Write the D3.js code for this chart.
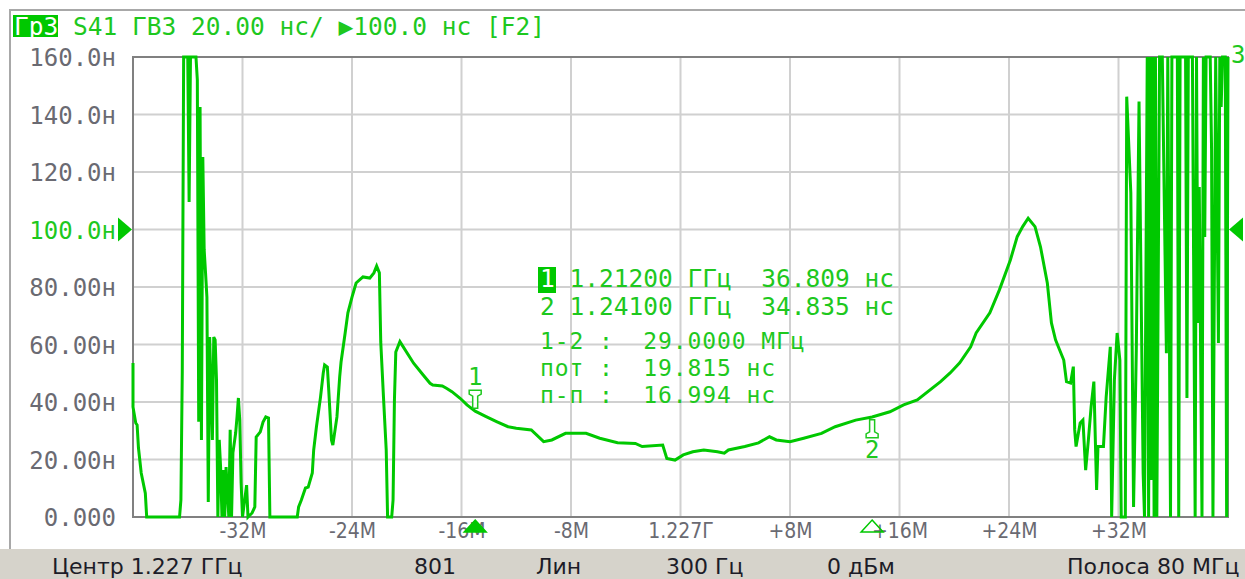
<!DOCTYPE html>
<html>
<head>
<meta charset="utf-8">
<script src="https://cdn.jsdelivr.net/npm/d3@7"></script>
<style>
  html, body { margin: 0; padding: 0; background: #fff; }
  svg { display: block; }
  text { white-space: pre; }
</style>
</head>
<body>
<div id="chart"></div>
<script>
// trace: [offset from 1.227 GHz, MHz ; group delay, ns] (clipped at 0 / 160 like the screen)
const trace = [
  [-40.0, 53.6], [-40.0, 38.3], [-39.8, 32.7], [-39.7, 32.0], [-39.6, 24.0], [-39.4, 15.3], [-39.1, 8.3], [-39.0, 0],
  [-36.6, 0], [-36.5, 5.9], [-36.4, 50.4], [-36.3, 160], [-36.0, 160], [-35.9, 109.6], [-35.8, 160], [-35.4, 160],
  [-35.3, 152], [-35.2, 33.1], [-35.1, 142.6], [-35.0, 26.8], [-34.9, 125.2], [-34.8, 92.9], [-34.7, 84.9], [-34.6, 76.5],
  [-34.5, 5.2], [-34.4, 62.6], [-34.2, 26.8], [-34.1, 62.6], [-34.0, 61.6], [-33.9, 47.7], [-33.8, 0], [-33.7, 26.8],
  [-33.6, 17.4], [-33.5, 0], [-33.4, 16.3], [-33.3, 0], [-33.2, 17.4], [-33.0, 0], [-32.9, 30.3], [-32.8, 0],
  [-32.7, 22.3], [-32.5, 29.2], [-32.4, 34.8], [-32.3, 41.4], [-32.2, 33.7], [-32.1, 11.8], [-32.0, 0], [-31.7, 11.1],
  [-31.6, 0], [-31.3, 1.4], [-31.1, 3.5], [-31.0, 27.8], [-30.7, 29.6], [-30.5, 33.0], [-30.3, 34.8], [-30.1, 34.4],
  [-30.0, 0], [-28.0, 0], [-27.9, 3.5], [-27.7, 5.9], [-27.4, 10.1], [-27.2, 10.4], [-26.9, 15.3], [-26.8, 23.3],
  [-26.6, 31.3], [-26.3, 41.7], [-26.1, 50.1], [-26.0, 52.9], [-25.8, 52.2], [-25.7, 44.2], [-25.5, 26.8], [-25.4, 25.0],
  [-25.1, 34.8], [-24.9, 48.7], [-24.8, 53.9], [-24.5, 64.0], [-24.3, 71.0], [-24.0, 76.5], [-23.7, 81.4], [-23.2, 83.5],
  [-22.7, 83.1], [-22.4, 84.9], [-22.2, 87.3], [-22.0, 84.9], [-21.9, 60.9], [-21.7, 41.7], [-21.5, 23.3], [-21.4, 0],
  [-21.1, 0], [-21.0, 5.9], [-20.9, 40.7], [-20.8, 57.4], [-20.5, 61.0], [-19.5, 53.5], [-18.8, 49.4], [-18.3, 46.5],
  [-18.1, 45.9], [-17.4, 45.6], [-17.1, 44.8], [-16.7, 43.6], [-16.1, 41.3], [-15.6, 39.0], [-15.0, 36.8], [-14.2, 34.9],
  [-13.4, 33.1], [-12.6, 31.4], [-12.0, 30.9], [-10.9, 30.3], [-10.0, 26.2], [-9.4, 26.8],
  [-8.4, 29.1], [-6.9, 29.1], [-5.9, 27.4], [-4.6, 25.8], [-3.3, 25.6], [-2.8, 24.5], [-1.3, 25.0], [-1.0, 20.4],
  [-0.4, 19.8], [0.2, 21.6], [0.9, 22.7], [1.7, 23.3], [2.7, 22.7], [3.2, 22.2], [3.5, 23.3], [4.7, 24.5],
  [5.7, 25.8], [6.5, 27.9], [7.0, 26.8], [8.0, 26.2], [9.0, 27.4], [10.3, 29.1], [11.3, 31.4], [12.8, 33.7],
  [14.0, 34.8], [15.3, 36.6], [16.3, 39.0], [17.3, 40.7], [19.0, 47.1], [19.7, 50.1], [20.4, 53.6], [21.2, 59.2],
  [21.6, 64.0], [22.6, 71.0], [23.3, 79.0], [24.1, 89.4], [24.6, 97.5], [25.0, 101.0], [25.4, 103.9], [25.9, 101.0],
  [26.3, 94.0], [26.8, 81.4], [27.1, 67.5], [27.4, 61.6], [27.7, 58.1], [28.0, 54.6], [28.2, 47.1], [28.5, 46.6],
  [28.7, 52.3], [28.8, 30.3], [28.9, 24.5], [29.2, 32.7], [29.4, 33.7], [29.6, 16.3], [29.8, 26.8], [30.0, 38.4],
  [30.2, 47.1], [30.4, 9.4], [30.5, 24.5], [30.9, 24.5], [31.1, 41.8], [31.4, 59.2], [31.5, 0], [31.7, 47.7],
  [31.9, 64.0], [32.1, 54.6], [32.2, 0], [32.5, 0], [32.6, 146.2], [32.9, 112.7], [33.1, 3.5], [33.3, 58.1],
  [33.5, 144.5], [33.8, 15.3], [33.9, 0], [34.1, 160], [34.2, 0], [34.3, 160], [34.4, 12.9], [34.5, 160],
  [34.6, 0], [34.7, 160], [34.8, 0], [35.0, 160], [35.2, 160], [35.5, 57.0], [35.6, 160], [35.8, 0],
  [35.9, 160], [36.3, 160], [36.4, 0], [36.5, 160], [36.9, 160], [37.0, 41.4], [37.1, 160], [37.4, 160],
  [37.6, 0], [37.7, 160], [37.8, 67.5], [37.9, 114.8], [38.1, 0], [38.2, 160], [38.3, 97.4], [38.4, 160],
  [38.7, 160], [38.8, 127.7], [38.9, 0], [39.1, 160], [39.3, 60.5], [39.4, 160], [39.5, 142.6], [39.6, 160],
  [39.8, 160], [39.9, 0], [40.0, 160]
]

const xTicks = [-32, -24, -16, -8, 0, 8, 16, 24, 32]
const xTickLabels = ['-32M', '-24M', '-16M', '-8M', '1.227Г', '+8M', '+16M', '+24M', '+32M']
const yTicks = [0, 20, 40, 60, 80, 100, 120, 140, 160]
const yTickLabels = ['0.000', '20.00н', '40.00н', '60.00н', '80.00н', '100.0н', '120.0н', '140.0н', '160.0н']
const refLevel = 100

const markerIds = [1, 2]
const markerOffsets = [-15, 14]
const markerValues = [36.809, 34.835]
const markerLines = ['1 1.21200 ГГц  36.809 нс', '2 1.24100 ГГц  34.835 нс']
const deltaLines = ['1-2 :  29.0000 МГц', 'пот :  19.815 нс', 'п-п :  16.994 нс']

const titleTag = 'Гр3'
const titleText = ' S41 ГВЗ 20.00 нс/ \u25B6100.0 нс [F2]'
const statusItems = ['Центр 1.227 ГГц', '801', 'Лин', '300 Гц', '0 дБм', 'Полоса 80 МГц']

const W = 1245, H = 579
const plot = {left: 133, top: 57, right: 1228, bottom: 517}
const green = '#00c800'
const textGreen = '#1ec81e'
const mono = '"DejaVu Sans Mono", monospace'

const svg = d3.select('#chart').append('svg')
    .attr('width', W)
    .attr('height', H)

const x = d3.scaleLinear().domain([-40, 40]).range([plot.left, plot.right])
const y = d3.scaleLinear().domain([0, 160]).range([plot.bottom, plot.top])

// outer frame
svg.append('path')
    .attr('d', `M10,${H - 30} L10,10 L${W},10`)
    .attr('fill', 'none')
    .attr('stroke', '#a8a8a8')
    .attr('stroke-width', 2)

// grid
svg.append('g').selectAll('line')
    .data(xTicks)
    .enter().append('line')
    .attr('x1', d => x(d)).attr('x2', d => x(d))
    .attr('y1', plot.top).attr('y2', plot.bottom)
    .attr('stroke', '#d0d0d0')
    .attr('stroke-width', 2)

svg.append('g').selectAll('line')
    .data(yTicks.slice(1, -1))
    .enter().append('line')
    .attr('x1', plot.left).attr('x2', plot.right)
    .attr('y1', d => y(d)).attr('y2', d => y(d))
    .attr('stroke', '#d0d0d0')
    .attr('stroke-width', 2)

svg.append('rect')
    .attr('x', plot.left).attr('y', plot.top)
    .attr('width', plot.right - plot.left)
    .attr('height', plot.bottom - plot.top)
    .attr('fill', 'none')
    .attr('stroke', '#808080')
    .attr('stroke-width', 2)

// axes
const xAxis = svg.append('g')
    .attr('transform', `translate(0, ${plot.bottom})`)
    .call(d3.axisBottom(x).tickValues(xTicks).tickSize(0).tickPadding(0)
        .tickFormat((d, i) => xTickLabels[i]))
xAxis.select('.domain').remove()
xAxis.selectAll('text')
    .attr('y', 21)
    .attr('dy', 0)
    .attr('fill', '#6a6a72')
    .style('font-family', '"DejaVu Sans Condensed", "DejaVu Sans", sans-serif')
    .style('font-size', '21px')

const yAxis = svg.append('g')
    .attr('transform', 'translate(116, 0)')
    .call(d3.axisLeft(y).tickValues(yTicks).tickSize(0).tickPadding(0)
        .tickFormat((d, i) => yTickLabels[i]))
yAxis.select('.domain').remove()
yAxis.selectAll('text')
    .attr('x', 0)
    .attr('dy', '0.36em')
    .attr('fill', d => d === refLevel ? textGreen : '#6a6a72')
    .style('font-family', mono)
    .style('font-size', '24px')

// reference level arrows
svg.append('path')
    .attr('d', `M118,${y(refLevel) - 12} L132,${y(refLevel)} L118,${y(refLevel) + 12} Z`)
    .attr('fill', green)
svg.append('path')
    .attr('d', `M1243,${y(refLevel) - 12} L1229,${y(refLevel)} L1243,${y(refLevel) + 12} Z`)
    .attr('fill', green)

// trace
const line = d3.line()
    .x(d => x(d[0]))
    .y(d => y(d[1]))

svg.append('path')
    .datum(trace)
    .attr('d', line)
    .attr('fill', 'none')
    .attr('stroke', green)
    .attr('stroke-width', 3)
    .attr('stroke-linejoin', 'miter')

// trace number at end of trace
svg.append('text')
    .attr('x', 1231).attr('y', 63)
    .attr('fill', textGreen)
    .style('font-family', mono)
    .style('font-size', '24px')
    .text('3')

// markers on the trace
markerIds.forEach((id, i) => {
    const mx = x(markerOffsets[i])
    const my = y(markerValues[i])
    const s = i === 0 ? -1 : 1 // marker 1 sits above the trace, marker 2 below
    svg.append('path')
        .attr('d', `M${mx - 6},${my + s * 21} L${mx + 6},${my + s * 21} L${mx + 6},${my + s * 17} L${mx + 2.5},${my + s * 15} L${mx + 2.5},${my + s * 3} L${mx - 2.5},${my + s * 3} L${mx - 2.5},${my + s * 15} L${mx - 6},${my + s * 17} Z`)
        .attr('fill', '#fff')
        .attr('stroke', textGreen)
        .attr('stroke-width', 1.5)
    svg.append('text')
        .attr('x', mx).attr('y', i === 0 ? my - 26 : my + 41)
        .attr('text-anchor', 'middle')
        .attr('fill', textGreen)
        .style('font-family', mono)
        .style('font-size', '24px')
        .text(id)
    // marker triangles under the x axis
    svg.append('path')
        .attr('d', `M${mx},${plot.bottom + 3} L${mx + 11},${plot.bottom + 15} L${mx - 11},${plot.bottom + 15} Z`)
        .attr('fill', i === 0 ? green : 'none')
        .attr('stroke', green)
        .attr('stroke-width', 1.5)
})

// marker readout
const readout = svg.append('g')
    .style('font-family', mono)
    .attr('fill', textGreen)

readout.append('rect')
    .attr('x', 538).attr('y', 267)
    .attr('width', 18).attr('height', 26)
    .attr('fill', green)

readout.selectAll('text.mk')
    .data(markerLines)
    .enter().append('text')
    .attr('class', 'mk')
    .attr('x', 540)
    .attr('y', (d, i) => 287 + i * 28)
    .style('font-size', '24.5px')
    .each(function (d, i) {
        const t = d3.select(this)
        t.append('tspan').attr('fill', i === 0 ? '#fff' : textGreen).text(d.slice(0, 1))
        t.append('tspan').text(d.slice(1))
    })

readout.selectAll('text.dl')
    .data(deltaLines)
    .enter().append('text')
    .attr('class', 'dl')
    .attr('x', 540)
    .attr('y', (d, i) => 349 + i * 27)
    .style('font-size', '23px')
    .style('letter-spacing', '0.9px')
    .text(d => d)

// title
svg.append('rect')
    .attr('x', 13).attr('y', 15)
    .attr('width', 45).attr('height', 22)
    .attr('fill', green)

const title = svg.append('text')
    .attr('x', 14).attr('y', 35)
    .style('font-family', mono)
    .style('font-size', '24.5px')
title.append('tspan').attr('fill', '#fff').text(titleTag)
title.append('tspan').attr('fill', textGreen).text(titleText)

// status bar
const statusX = [52, 414, 536, 666, 827, 1067]
svg.append('rect')
    .attr('x', 0).attr('y', 549)
    .attr('width', W).attr('height', H - 549)
    .attr('fill', '#d6d3cb')

svg.append('g').selectAll('text')
    .data(statusItems)
    .enter().append('text')
    .attr('x', (d, i) => statusX[i])
    .attr('y', 574)
    .attr('fill', '#1c1c28')
    .style('font-family', '"DejaVu Sans", sans-serif')
    .style('font-size', '22px')
    .text(d => d)
</script>
</body>
</html>
